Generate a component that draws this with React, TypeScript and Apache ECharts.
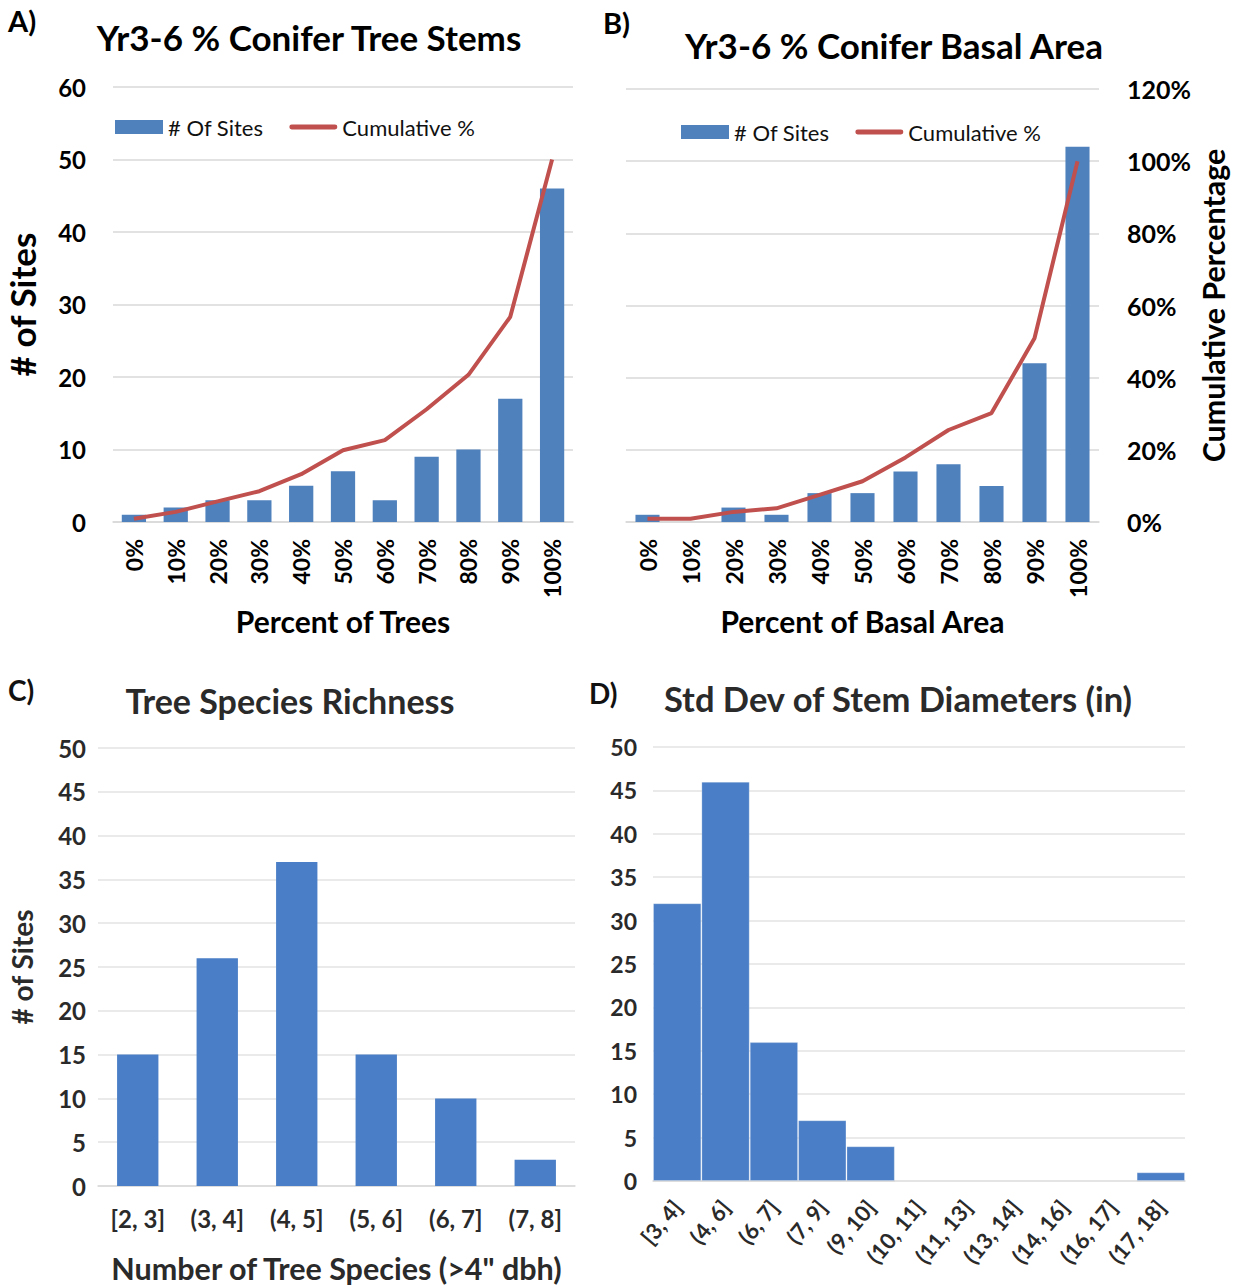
import React, { useEffect, useRef } from "react";
import * as echarts from "echarts";

const FONT = "Lato, 'Open Sans', sans-serif";
const BLUE = "#4F81BD";
const BLUE2 = "#4A7EC6";
const RED = "#C0504D";
const GRID = "#d9d9d9";

const catA = ["0%", "10%", "20%", "30%", "40%", "50%", "60%", "70%", "80%", "90%", "100%"];
const sitesA = [1, 2, 3, 3, 5, 7, 3, 9, 10, 17, 46];
const cumA = [0.9, 2.8, 5.7, 8.5, 13.2, 19.8, 22.6, 31.1, 40.6, 56.6, 100];

const catB = ["0%", "10%", "20%", "30%", "40%", "50%", "60%", "70%", "80%", "90%", "100%"];
const sitesB = [1, 0, 2, 1, 4, 4, 7, 8, 5, 22, 52];
const cumB = [0.9, 0.9, 2.8, 3.8, 7.5, 11.3, 17.9, 25.5, 30.2, 50.9, 100];

const catC = ["[2, 3]", "(3, 4]", "(4, 5]", "(5, 6]", "(6, 7]", "(7, 8]"];
const sitesC = [15, 26, 37, 15, 10, 3];

const catD = ["[3, 4]", "(4, 6]", "(6, 7]", "(7, 9]", "(9, 10]", "(10, 11]", "(11, 13]", "(13, 14]", "(14, 16]", "(16, 17]", "(17, 18]"];
const sitesD = [32, 46, 16, 7, 4, 0, 0, 0, 0, 0, 1];

const titles = [
  { text: "A)", x: 8, y: 20, size: 29, align: "left", color: "#000" },
  { text: "Yr3-6 % Conifer Tree Stems", x: 309, y: 37, size: 35, align: "center", color: "#000" },
  { text: "B)", x: 603, y: 22, size: 29, align: "left", color: "#000" },
  { text: "Yr3-6 % Conifer Basal Area", x: 894, y: 45, size: 35, align: "center", color: "#000" },
  { text: "C)", x: 8, y: 690, size: 28, align: "left", color: "#111" },
  { text: "Tree Species Richness", x: 290, y: 700, size: 34, align: "center", color: "#2a2a2a" },
  { text: "D)", x: 589, y: 693, size: 28, align: "left", color: "#111" },
  { text: "Std Dev of Stem Diameters (in)", x: 898, y: 698, size: 34.5, align: "center", color: "#2a2a2a" },
];

export default function App() {
  const ref = useRef<HTMLDivElement>(null);
  useEffect(() => {
    if (!ref.current) return;
    const chart = echarts.init(ref.current, null, { renderer: "svg" });
    const boldLabel = (size: number, color = "#000") => ({
      fontFamily: FONT,
      fontWeight: "bold" as const,
      fontSize: size,
      color,
    });
    const xCommon = {
      type: "category" as const,
      axisTick: { show: false },
      axisLine: { lineStyle: { color: GRID, width: 1.5 } },
    };
    const split = { lineStyle: { color: GRID, width: 1.5 } };
    const legendBase = {
      itemWidth: 48,
      itemHeight: 14,
      itemGap: 26,
      padding: 0,
      textStyle: { fontFamily: FONT, fontSize: 22, color: "#111", padding: [0, 0, 0, 0] },
      data: [
        { name: "# Of Sites", icon: "rect" },
        { name: "Cumulative %", icon: "path://M2.5,0 H47.5 A2.5,2.5 0 0 1 47.5,5 H2.5 A2.5,2.5 0 0 1 2.5,0 Z" },
      ],
    };
    const option: any = {
      animation: false,
      backgroundColor: "#fff",
      grid: [
        { left: 113, top: 87, width: 460, height: 435 },
        { left: 626, top: 89, width: 473, height: 433 },
        { left: 98, top: 748, width: 477, height: 438 },
        { left: 653, top: 747, width: 532, height: 434 },
      ],
      legend: [
        { ...legendBase, left: 115, top: 116 },
        { ...legendBase, left: 681, top: 121 },
      ],
      xAxis: [
        {
          ...xCommon,
          gridIndex: 0,
          data: catA,
          axisLabel: { ...boldLabel(23), rotate: 90, margin: 17 },
          name: "Percent of Trees",
          nameLocation: "middle",
          nameGap: 84,
          nameTextStyle: boldLabel(30),
        },
        {
          ...xCommon,
          gridIndex: 1,
          data: catB,
          axisLabel: { ...boldLabel(23), rotate: 90, margin: 17 },
          name: "Percent of Basal Area",
          nameLocation: "middle",
          nameGap: 84,
          nameTextStyle: boldLabel(30),
        },
        {
          ...xCommon,
          gridIndex: 2,
          data: catC,
          axisLabel: { ...boldLabel(24, "#2a2a2a"), margin: 20 },
          name: 'Number of Tree Species (>4" dbh)',
          nameLocation: "middle",
          nameGap: 66,
          nameTextStyle: boldLabel(30.5, "#2a2a2a"),
        },
        {
          ...xCommon,
          gridIndex: 3,
          data: catD,
          axisLabel: { ...boldLabel(22, "#2a2a2a"), rotate: 50, margin: 22, interval: 0 },
        },
      ],
      yAxis: [
        {
          type: "value",
          gridIndex: 0,
          min: 0,
          max: 60,
          interval: 10,
          axisLabel: { ...boldLabel(24), margin: 27 },
          splitLine: split,
          name: "# of Sites",
          nameLocation: "middle",
          nameGap: 74,
          nameRotate: 90,
          nameTextStyle: boldLabel(35),
        },
        { type: "value", gridIndex: 0, min: 0, max: 120, show: false, splitLine: { show: false } },
        {
          type: "value",
          gridIndex: 1,
          min: 0,
          max: 60,
          interval: 10,
          axisLabel: { show: false },
          splitLine: split,
        },
        {
          type: "value",
          gridIndex: 1,
          position: "right",
          min: 0,
          max: 120,
          interval: 20,
          axisLabel: { ...boldLabel(25), margin: 28, formatter: "{value}%" },
          splitLine: { show: false },
          name: "Cumulative Percentage",
          nameLocation: "middle",
          nameGap: 98,
          nameRotate: 90,
          nameTextStyle: boldLabel(30.5),
        },
        {
          type: "value",
          gridIndex: 2,
          min: 0,
          max: 50,
          interval: 5,
          axisLabel: { ...boldLabel(24, "#2a2a2a"), margin: 12 },
          splitLine: { lineStyle: { color: "#e3e3e3", width: 1.5 } },
          name: "# of Sites",
          nameLocation: "middle",
          nameGap: 62,
          nameRotate: 90,
          nameTextStyle: boldLabel(28, "#2a2a2a"),
        },
        {
          type: "value",
          gridIndex: 3,
          min: 0,
          max: 50,
          interval: 5,
          axisLabel: { ...boldLabel(23, "#2a2a2a"), margin: 16 },
          splitLine: { lineStyle: { color: "#e3e3e3", width: 1.5 } },
        },
      ],
      series: [
        { type: "bar", name: "# Of Sites", xAxisIndex: 0, yAxisIndex: 0, data: sitesA, barWidth: "58%", itemStyle: { color: BLUE } },
        { type: "line", name: "Cumulative %", xAxisIndex: 0, yAxisIndex: 1, data: cumA, symbol: "none", lineStyle: { color: RED, width: 4 }, itemStyle: { color: RED } },
        { type: "bar", name: "# Of Sites", xAxisIndex: 1, yAxisIndex: 2, data: sitesB, barWidth: "56%", itemStyle: { color: BLUE } },
        { type: "line", name: "Cumulative %", xAxisIndex: 1, yAxisIndex: 3, data: cumB, symbol: "none", lineStyle: { color: RED, width: 4 }, itemStyle: { color: RED } },
        { type: "bar", name: "C", xAxisIndex: 2, yAxisIndex: 4, data: sitesC, barWidth: "52%", itemStyle: { color: BLUE2 } },
        { type: "bar", name: "D", xAxisIndex: 3, yAxisIndex: 5, data: sitesD, barCategoryGap: "0%", itemStyle: { color: BLUE2, borderColor: "rgba(255,255,255,0.25)", borderWidth: 1 } },
      ],
      graphic: titles.map((t) => ({
        type: "text",
        x: t.x,
        y: t.y,
        style: {
          text: t.text,
          fill: t.color,
          font: `bold ${t.size}px ${FONT}`,
          align: t.align,
          verticalAlign: "middle",
        },
      })),
    };
    chart.setOption(option);
    return () => chart.dispose();
  }, []);
  return (
    <div
      ref={ref}
      style={{ position: "absolute", left: 0, top: 0, width: 1234, height: 1287, background: "#fff" }}
    />
  );
}
